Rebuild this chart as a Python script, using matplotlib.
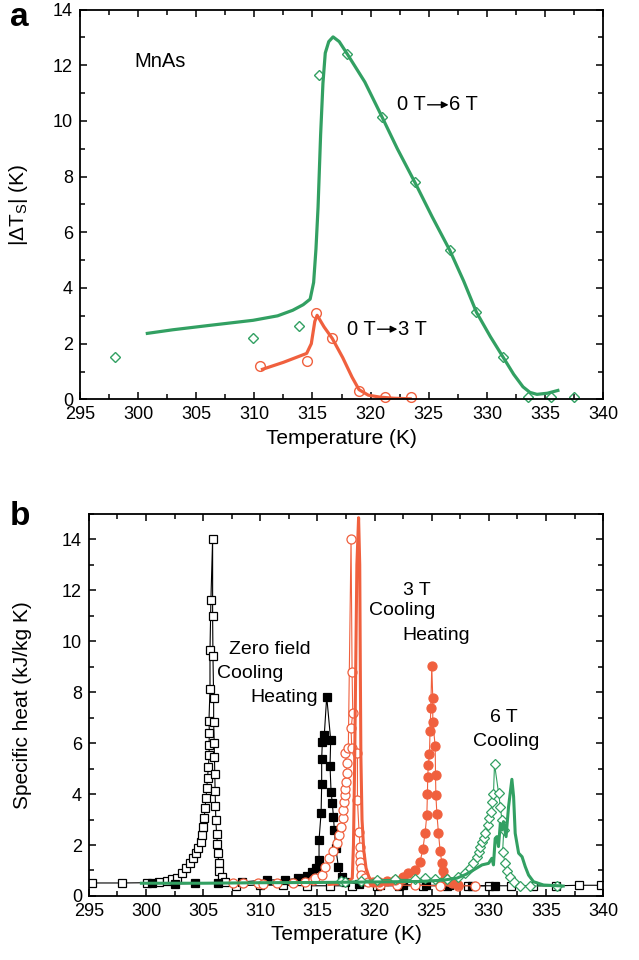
import numpy as np
import matplotlib
matplotlib.use('Agg')
import matplotlib.pyplot as plt
from matplotlib.ticker import MultipleLocator

plt.rcParams['font.family'] = ['Liberation Sans', 'DejaVu Sans']
plt.rcParams['mathtext.fontset'] = 'custom'
plt.rcParams['mathtext.rm'] = 'Liberation Sans'
plt.rcParams['mathtext.it'] = 'Liberation Sans:italic'

GREEN = '#32a062'
RED = '#f0603e'

# ---- panel a: adiabatic temperature change ----
a_dia_T = [298.0, 309.9, 313.8, 315.6, 318.0, 321.0, 323.8, 326.8, 329.1, 331.4, 333.5, 335.5, 337.5]
a_dia_y = [1.51, 2.19, 2.63, 11.66, 12.4, 10.15, 7.8, 5.36, 3.13, 1.51, 0.1, 0.07, 0.07]

a_gline_T = [300.8, 303, 306, 309.9, 312, 313.3, 314.2, 314.8, 315.1, 315.3, 315.48, 315.7, 315.9,
             316.1, 316.4, 316.77, 317.3, 318.0, 319.5, 320.8, 322.3, 323.8, 325.3, 326.8, 328.0,
             329.1, 330.3, 331.4, 332.3, 333.1, 333.7, 334.3, 335.2, 336.1]
a_gline_y = [2.37, 2.5, 2.65, 2.84, 3.0, 3.2, 3.4, 3.6, 4.2, 5.4, 6.9, 9.5, 11.35,
             12.44, 12.85, 13.02, 12.85, 12.4, 11.4, 10.3, 9.0, 7.8, 6.55, 5.36, 4.25,
             3.13, 2.25, 1.51, 0.9, 0.45, 0.25, 0.18, 0.22, 0.32]

a_circ_T = [310.5, 314.5, 315.3, 316.7, 319.0, 321.2, 323.5]
a_circ_y = [1.19, 1.37, 3.09, 2.19, 0.29, 0.1, 0.07]

a_rline_T = [310.7, 312.5, 314.5, 314.9, 315.2, 315.4, 316.0, 316.7, 317.6, 318.4, 319.0, 319.8,
             320.8, 322.0, 323.4]
a_rline_y = [1.08, 1.33, 1.65, 2.0, 2.8, 3.02, 2.6, 2.19, 1.5, 0.8, 0.35, 0.15, 0.08, 0.04, 0.02]

# ---- panel b: specific heat ----
zf_cool_T = [295.3, 297.9, 300.1, 301.1, 301.8, 302.3, 302.68, 303.12, 303.49, 303.84, 304.14, 304.37,
             304.57, 304.78, 304.92, 305.01, 305.10, 305.16, 305.25, 305.31, 305.39, 305.45, 305.54,
             305.51, 305.55, 305.51, 305.6, 305.6, 305.68, 305.83,
             305.83, 305.86, 305.92, 305.92, 305.97, 305.99, 306.02, 306.05, 306.08, 306.11, 306.18,
             306.25, 306.3, 306.35, 306.41, 306.61, 306.9, 307.9, 310.0, 312.0, 314.1, 316.1, 318.0,
             320.2, 322.1, 324.2, 326.3, 328.2, 330.0, 331.9, 333.9, 335.9, 337.9, 339.8]
zf_cool_y = [0.51, 0.51, 0.52, 0.55, 0.6, 0.65, 0.69, 0.89, 1.09, 1.28, 1.48, 1.68,
             1.87, 2.13, 2.39, 2.72, 3.07, 3.44, 3.83, 4.23, 4.62, 5.08, 5.54,
             5.93, 6.4, 6.87, 8.13, 9.66, 11.62, 14.02,
             11.0, 9.42, 7.76, 6.82, 6.02, 5.47, 4.78, 4.12, 3.55, 2.98, 2.43,
             2.04, 1.68, 1.31, 0.98, 0.76, 0.56, 0.4, 0.43, 0.42, 0.4, 0.4, 0.4,
             0.4, 0.4, 0.4, 0.4, 0.4, 0.4, 0.4, 0.4, 0.4, 0.42, 0.42]

zf_heat_T = [300.55, 302.5, 304.3, 306.3, 308.4, 310.56, 312.2, 313.3, 314.1, 314.55, 314.85, 315.14,
             315.14, 315.32, 315.37, 315.37, 315.43, 315.6, 315.81, 316.16, 316.1, 316.19, 316.3,
             316.4, 316.48, 316.6, 316.83, 317.13, 317.4, 318.6, 320.5, 322.5, 324.5, 326.5, 328.5, 330.55]
zf_heat_y = [0.52, 0.47, 0.5, 0.5, 0.55, 0.63, 0.63, 0.7, 0.8, 0.95, 1.09, 1.41,
             2.2, 3.27, 4.38, 5.37, 6.06, 6.32, 7.83, 6.12, 5.12, 4.1, 3.64,
             3.11, 2.59, 1.9, 1.15, 0.76, 0.56, 0.47, 0.45, 0.45, 0.42, 0.42, 0.4, 0.4]

t3_cool_T = [307.6, 308.46, 309.77, 310.2, 311.43, 312.84, 313.9, 314.64, 314.79, 315.37, 315.67, 316.05,
             316.4, 316.69, 316.92, 317.1, 317.2, 317.27, 317.35, 317.4, 317.45, 317.5, 317.55, 317.56,
             317.42, 317.7, 317.94, 318.03, 318.09, 317.94, 318.0, 318.5, 318.5, 318.64, 318.73, 318.73,
             318.73, 318.82, 318.85, 319.17, 319.46, 320.5, 322.0, 323.5, 325.7, 327.3, 328.8]
t3_cool_y = [0.5, 0.5, 0.5, 0.48, 0.5, 0.5, 0.55, 0.63, 0.69, 0.82, 1.15, 1.48,
             1.78, 2.07, 2.39, 2.72, 3.05, 3.38, 3.7, 3.97, 4.2, 4.49, 4.82, 5.21,
             5.6, 5.8, 14.02, 8.81, 7.17, 6.58, 5.8, 5.63, 3.77, 2.52, 1.94, 1.61,
             1.35, 1.09, 0.82, 0.69, 0.56, 0.45, 0.42, 0.42, 0.4, 0.4, 0.4]

t3_heat_T = [319.9, 320.4, 321.07, 321.8, 322.37, 322.52, 322.96, 323.55, 323.98, 324.22, 324.42, 324.57,
             324.62, 324.65, 324.7, 324.8, 324.85, 324.92, 325.0, 325.09, 325.09, 325.3, 325.33, 325.36,
             325.45, 325.59, 325.73, 325.88, 326.02, 326.2, 326.46, 326.8, 327.34]
t3_heat_y = [0.55, 0.55, 0.6, 0.62, 0.65, 0.75, 0.92, 1.02, 1.35, 1.83, 2.49, 3.18,
             3.99, 4.69, 5.14, 5.58, 6.49, 7.37, 9.04, 7.76, 6.84, 5.89, 4.75, 3.97,
             3.22, 2.46, 1.78, 1.31, 0.98, 0.72, 0.6, 0.5, 0.42]

t3_line_T = [316.0, 317.5, 318.05, 318.15, 318.25, 318.35, 318.45, 318.6, 318.7, 318.75, 318.8, 318.9,
             319.05, 319.25, 319.5, 319.8, 320.5, 321.5]
t3_line_y = [0.45, 0.5, 0.7, 2.0, 5.0, 9.0, 13.0, 14.85, 13.0, 9.0, 5.5, 3.0,
             1.8, 1.1, 0.75, 0.55, 0.47, 0.45]

t6_cool_T = [317.1, 317.4, 318.8, 320.2, 321.8, 323.55, 324.4, 325.3, 326.3, 327.3, 327.92, 328.36,
             328.65, 328.95, 329.1, 329.24, 329.4, 329.53, 329.67, 329.88, 330.0, 330.2, 330.3, 330.4,
             330.49, 330.84, 331.0, 331.14, 331.3, 331.2, 331.43, 331.58, 331.87, 332.16, 332.74, 333.6, 335.95]
t6_cool_y = [0.6, 0.56, 0.6, 0.64, 0.65, 0.65, 0.7, 0.68, 0.68, 0.75, 0.91, 1.09,
             1.28, 1.52, 1.74, 1.94, 2.1, 2.26, 2.46, 2.79, 3.05, 3.31, 3.7, 4.0,
             5.18, 4.06, 3.51, 2.98, 2.6, 1.74, 1.28, 0.99, 0.76, 0.56, 0.39, 0.39, 0.4]

t6_line_T = [299.6, 305, 310, 315, 320, 324, 326, 327.2, 328, 328.65, 329.4, 329.97, 330.26, 330.4,
             330.55, 330.7, 330.84, 331.0, 331.14, 331.28, 331.5, 331.72, 332.01, 332.16, 332.3, 332.6,
             332.9, 333.18, 333.47, 333.9, 334.78, 336.5]
t6_line_y = [0.5, 0.5, 0.52, 0.53, 0.55, 0.57, 0.62, 0.7, 0.85, 1.02, 1.22, 1.28, 1.48, 1.22,
             2.26, 2.33, 1.94, 2.85, 2.59, 2.92, 2.33, 3.51, 4.58, 3.9, 2.46, 1.68,
             1.54, 1.15, 0.82, 0.56, 0.43, 0.39]

fig = plt.figure(figsize=(6.39, 9.6), dpi=100)
axa = fig.add_axes([0.125, 0.584, 0.819, 0.406])
axb = fig.add_axes([0.139, 0.0667, 0.805, 0.398])


def style(ax):
    for s in ax.spines.values():
        s.set_linewidth(1.3)
    ax.set_xlim(295, 340)
    ax.xaxis.set_major_locator(MultipleLocator(5))
    ax.xaxis.set_minor_locator(MultipleLocator(2.5))
    ax.yaxis.set_major_locator(MultipleLocator(2))
    ax.yaxis.set_minor_locator(MultipleLocator(1))
    ax.tick_params(which='both', direction='in', top=True, right=True, labelsize=13, width=1.1)
    ax.tick_params(which='major', length=5, pad=5)
    ax.tick_params(which='minor', length=3.5)


# panel a
style(axa)
axa.set_ylim(0, 14)
axa.plot(a_gline_T, a_gline_y, '-', color=GREEN, lw=2.3)
axa.plot(a_dia_T, a_dia_y, 'D', ms=5.4, mfc='none', mec=GREEN, mew=1.0, clip_on=False)
axa.plot(a_rline_T, a_rline_y, '-', color=RED, lw=2.3)
axa.plot(a_circ_T, a_circ_y, 'o', ms=7, mfc='none', mec=RED, mew=1.0, clip_on=False)
axa.set_xlabel('Temperature (K)', fontsize=15)
axa.set_ylabel(r'|$\Delta$T$_\mathrm{S}$| (K)', fontsize=15)
axa.yaxis.set_label_coords(-0.095, 0.5)
axa.text(301.9, 12.12, 'MnAs', fontsize=14.5, ha='center', va='center')
axa.text(322.3, 10.58, '0 T', fontsize=14.5, ha='left', va='center')
axa.annotate('', xy=(326.7, 10.58), xytext=(324.9, 10.58),
             arrowprops=dict(arrowstyle='-|>', color='black', lw=1.0, mutation_scale=10, shrinkA=0, shrinkB=0))
axa.text(326.7, 10.58, '6 T', fontsize=14.5, ha='left', va='center')
axa.text(317.95, 2.52, '0 T', fontsize=14.5, ha='left', va='center')
axa.annotate('', xy=(322.3, 2.52), xytext=(320.6, 2.52),
             arrowprops=dict(arrowstyle='-|>', color='black', lw=1.0, mutation_scale=10, shrinkA=0, shrinkB=0))
axa.text(322.37, 2.52, '3 T', fontsize=14.5, ha='left', va='center')
fig.text(0.015, 0.982, 'a', fontsize=24, fontweight='bold', va='center', ha='left')

# panel b
style(axb)
axb.set_ylim(0, 15)
axb.plot(zf_cool_T, zf_cool_y, '-s', color='black', lw=0.8, ms=5.6, mfc='white', mec='black', mew=0.9)
axb.plot(zf_heat_T, zf_heat_y, '-s', color='black', lw=0.8, ms=5.6, mfc='black', mec='black', mew=0.9)
axb.plot(t3_cool_T, t3_cool_y, '-o', color=RED, lw=0.8, ms=6.5, mfc='white', mec=RED, mew=0.9)
axb.plot(t3_line_T, t3_line_y, '-', color=RED, lw=2.2)
axb.plot(t3_heat_T, t3_heat_y, '-o', color=RED, lw=0.8, ms=6.5, mfc=RED, mec=RED, mew=0.9)
axb.plot(t6_cool_T, t6_cool_y, '-D', color=GREEN, lw=0.8, ms=4.6, mfc='white', mec=GREEN, mew=0.9)
axb.plot(t6_line_T, t6_line_y, '-', color=GREEN, lw=2.2)
axb.set_xlabel('Temperature (K)', fontsize=15)
axb.set_ylabel('Specific heat (kJ/kg K)', fontsize=15)
axb.yaxis.set_label_coords(-0.11, 0.5)
for x, y, s in [(310.85, 9.66, 'Zero field'), (309.1, 8.72, 'Cooling'), (312.1, 7.81, 'Heating'),
                (323.68, 12.01, '3 T'), (322.45, 11.19, 'Cooling'), (325.43, 10.21, 'Heating'),
                (331.34, 6.99, '6 T'), (331.47, 6.05, 'Cooling')]:
    axb.text(x, y, s, fontsize=14, ha='center', va='center')
fig.text(0.015, 0.462, 'b', fontsize=24, fontweight='bold', va='center', ha='left')

fig.savefig('out.png', dpi=100)
